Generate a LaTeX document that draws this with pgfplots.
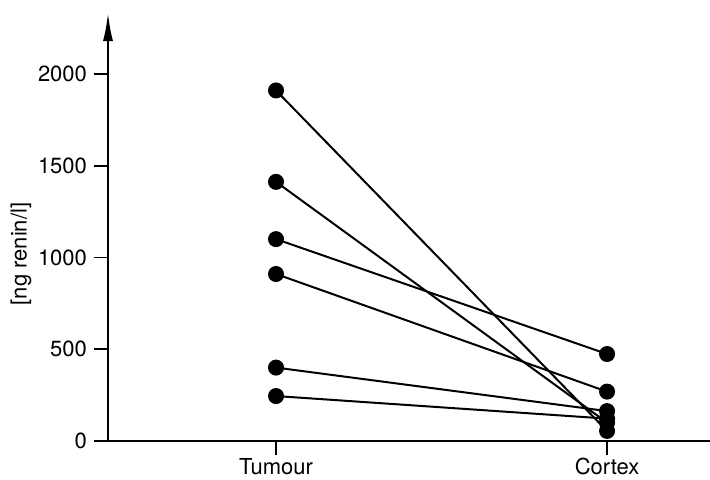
\documentclass[border=0pt]{standalone}
\usepackage{fontspec}
\setmainfont{TeX Gyre Heros}
\usepackage{pgfplots}
\pgfplotsset{compat=1.18}
\usetikzlibrary{arrows.meta}
\begin{document}
\begin{tikzpicture}
\path[use as bounding box] (-54pt,-19pt) rectangle (301pt,220.5pt);
\begin{axis}[
  at={(0,0)}, anchor=south west,
  scale only axis, width=301pt, height=214pt,
  xmin=-0.5076, xmax=1.311, ymin=0, ymax=2332,
  axis x line=bottom, axis y line=left,
  x axis line style={-},
  y axis line style={-{Latex[length=14pt,width=5pt]}},
  axis line style={line width=1pt, black},
  xtick={0,1}, xticklabels={Tumour,Cortex},
  ytick={0,500,1000,1500,2000},
  tick align=outside, major tick length=7pt,
  tick style={line width=0.8pt, black},
  tick label style={font=\fontsize{11}{13}\selectfont},
  xticklabel style={yshift=2pt},
  /pgf/number format/assume math mode=true,
  /pgf/number format/1000 sep={},
  ylabel={[ng renin/l]},
  ylabel style={at={(axis description cs:-0.1445,0.437)}, anchor=center, font=\fontsize{11}{13}\selectfont},
  clip=false,
]
\addplot[black, line width=1pt, mark=*, mark size=3.5pt] coordinates {(0,1910) (1,55)};
\addplot[black, line width=1pt, mark=*, mark size=3.5pt] coordinates {(0,1412) (1,100)};
\addplot[black, line width=1pt, mark=*, mark size=3.5pt] coordinates {(0,1100) (1,474)};
\addplot[black, line width=1pt, mark=*, mark size=3.5pt] coordinates {(0,910) (1,269)};
\addplot[black, line width=1pt, mark=*, mark size=3.5pt] coordinates {(0,400) (1,163)};
\addplot[black, line width=1pt, mark=*, mark size=3.5pt] coordinates {(0,245) (1,122)};
\end{axis}
\end{tikzpicture}
\end{document}
